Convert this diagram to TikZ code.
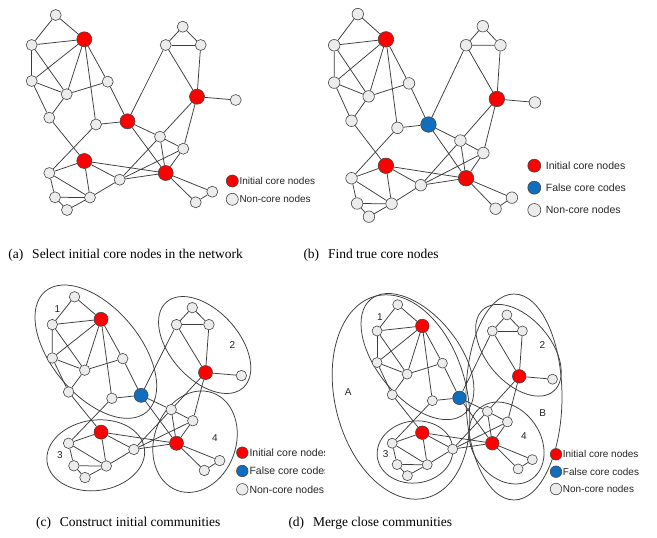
\documentclass[tikz,border=0pt]{standalone}
\usepackage{fontspec}
\setmainfont{Liberation Serif}
\newfontfamily\lsans{Liberation Sans}
\definecolor{nodered}{RGB}{255,0,0}
\definecolor{nodeblue}{RGB}{16,110,190}
\definecolor{nodegray}{RGB}{236,236,236}
\definecolor{edgecol}{RGB}{60,60,60}
\definecolor{rimcol}{RGB}{70,70,70}
\tikzset{
 gn/.style={circle,draw=rimcol,line width=0.6pt,fill=nodegray,inner sep=0pt,minimum size=11pt},
 cn/.style={circle,draw=rimcol,line width=0.6pt,inner sep=0pt,minimum size=15pt},
 ed/.style={draw=edgecol,line width=0.75pt},
 comm/.style={draw=edgecol,line width=0.75pt},
 legtext/.style={anchor=west,inner sep=0pt,text=black!85},
 captext/.style={anchor=base west,font=\fontsize{13.5}{16}\selectfont,inner sep=0pt},
 lab/.style={font=\lsans\fontsize{10}{12}\selectfont,inner sep=0pt,text=black!85}
}
\newcommand\netgraph[2]{%
 \node[gn] (#1n1) at (55.7,15) {};
 \node[cn,fill=nodered] (#1R1) at (84.3,39.3) {};
 \node[gn] (#1n2) at (31.7,45) {};
 \node[gn] (#1n3) at (31.7,81) {};
 \node[gn] (#1n4) at (66.7,94.2) {};
 \node[gn] (#1n5) at (107.7,81.7) {};
 \node[gn] (#1n6) at (49.3,117.7) {};
 \node[gn] (#1n7) at (96,124.5) {};
 \node[cn,fill=#2] (#1R2) at (127.5,121.3) {};
 \node[gn] (#1n8) at (182.7,26.7) {};
 \node[gn] (#1n9) at (165.7,45) {};
 \node[gn] (#1n10) at (200.7,45) {};
 \node[cn,fill=nodered] (#1R3) at (197,96.7) {};
 \node[gn] (#1n11) at (235.7,100) {};
 \node[gn] (#1n12) at (160,136.7) {};
 \node[gn] (#1n13) at (183.3,148.7) {};
 \node[cn,fill=nodered] (#1R4) at (84.3,161) {};
 \node[cn,fill=nodered] (#1R5) at (165.7,173) {};
 \node[gn] (#1n14) at (49.3,173) {};
 \node[gn] (#1n15) at (119.7,179.7) {};
 \node[gn] (#1n16) at (55,197.3) {};
 \node[gn] (#1n17) at (90,197.5) {};
 \node[gn] (#1n18) at (67,210) {};
 \node[gn] (#1n19) at (212.3,191.7) {};
 \node[gn] (#1n20) at (195.7,202.3) {};
 \foreach \u/\v in {n1/R1,n1/n2,n2/R1,n2/n3,n2/n4,n3/R1,n3/n4,n3/n6,n4/R1,n4/n5,n4/n6,
   R1/n7,R1/n5,n5/R2,n7/R2,n6/R4,n7/n14,R2/n9,R2/n12,R2/R5,n8/n9,n8/n10,n9/n10,n9/R3,
   n10/R3,R3/n11,R3/n12,R3/n13,n12/n13,n12/R5,n13/R5,n15/n12,n15/n13,n15/R5,R4/R5,
   R4/n14,R4/n15,R4/n17,n14/n16,n14/n17,n16/n17,n16/n18,n18/n17,n15/n17,R5/n19,R5/n20,n19/n20}
   \draw[ed] (#1\u) -- (#1\v);
}
\newcommand\commtop{%
 \draw[comm,rotate around={-50:(78.7,74.2)}] (78.7,74.2) ellipse [x radius=85,y radius=47.5];
 \draw[comm,rotate around={-48:(196.1,67)}] (196.1,67) ellipse [x radius=62,y radius=37];
}
\begin{document}
\begin{tikzpicture}[x=1pt,y=-1pt]
\useasboundingbox[fill=white] (0,0) rectangle (657,538);
% panel (a)
\begin{scope}
 \netgraph{a}{nodered}
\end{scope}
\node[cn,fill=nodered,minimum size=12pt] (aLr) at (232.3,181) {};
\node[gn,minimum size=12pt] (aLg) at (232.3,199.3) {};
\node[legtext,font=\lsans\fontsize{10}{12}\selectfont] (aTr) at (239.3,181) {Initial core nodes};
\node[legtext,font=\lsans\fontsize{10}{12}\selectfont] (aTg) at (239.3,199.3) {Non-core nodes};
\node[captext] (capa) at (8.3,258.3) {(a)\hspace{0.65em}Select initial core nodes in the network};
% panel (b)
\begin{scope}[shift={(303,-1.5)},xscale=0.984,yscale=1.039,gn/.append style={minimum size=11.5pt},cn/.append style={minimum size=15.5pt}]
 \netgraph{b}{nodeblue}
\end{scope}
\node[cn,fill=nodered,minimum size=13pt] (bLr) at (534.3,165.7) {};
\node[cn,fill=nodeblue,minimum size=13pt] (bLb) at (534.3,187.7) {};
\node[gn,minimum size=13pt] (bLg) at (534.3,210) {};
\node[legtext,font=\lsans\fontsize{10.5}{12}\selectfont] (bTr) at (545.7,165.7) {Initial core nodes};
\node[legtext,font=\lsans\fontsize{10.5}{12}\selectfont] (bTb) at (545.7,187.7) {False core codes};
\node[legtext,font=\lsans\fontsize{10.5}{12}\selectfont] (bTg) at (545.7,210) {Non-core nodes};
\node[captext] (capb) at (303.3,258.3) {(b)\hspace{0.65em}Find true core nodes};
% panel (c)
\begin{scope}[shift={(22.9,282.9)},scale=0.927,gn/.append style={minimum size=10.5pt},cn/.append style={minimum size=14pt}]
 \commtop
 \draw[comm,rotate around={8:(78.6,186)}] (78.6,186) ellipse [x radius=53,y radius=38];
 \draw[comm,rotate around={70:(185.7,171.3)}] (185.7,171.3) ellipse [x radius=56,y radius=44];
 \netgraph{c}{nodeblue}
\end{scope}
\node[lab] (c1) at (57.3,309.3) {1};
\node[lab] (c2) at (232.3,345) {2};
\node[lab] (c3) at (60,455) {3};
\node[lab] (c4) at (215,438.3) {4};
\node[cn,fill=nodered,minimum size=11.5pt] (cLr) at (242.3,452.7) {};
\node[cn,fill=nodeblue,minimum size=11.5pt] (cLb) at (242.3,471) {};
\node[gn,minimum size=11.5pt] (cLg) at (242.3,489.3) {};
\begin{scope}
 \clip (0,300) rectangle (324.5,500);
 \node[legtext,font=\lsans\fontsize{10.5}{12}\selectfont] (cTr) at (249.3,452.7) {Initial core nodes};
 \node[legtext,font=\lsans\fontsize{10.5}{12}\selectfont] (cTb) at (249.3,471) {False core codes};
 \node[legtext,font=\lsans\fontsize{10.5}{12}\selectfont] (cTg) at (249.3,489.3) {Non-core nodes};
\end{scope}
\node[captext] (capc) at (36,526.7) {(c)\hspace{0.65em}Construct initial communities};
% panel (d)
\draw[comm,rotate around={-76:(401,397)}] (401,397) ellipse [x radius=104,y radius=66];
\draw[comm,rotate around={90:(514,397)}] (514,397) ellipse [x radius=103,y radius=48];
\draw[comm,rotate around={8:(415,452)}] (415,452) ellipse [x radius=38,y radius=31];
\draw[comm,rotate around={-55:(506.5,443)}] (506.5,443) ellipse [x radius=44,y radius=34];
\begin{scope}[shift={(349.8,291.5)},xscale=0.86,yscale=0.877,gn/.append style={minimum size=10pt},cn/.append style={minimum size=13.5pt}]
 \commtop
 \netgraph{d}{nodeblue}
\end{scope}
\node[lab] (d1) at (380,316.7) {1};
\node[lab] (d2) at (542.3,345) {2};
\node[lab] (d3) at (385.7,454.3) {3};
\node[lab] (d4) at (524,435.7) {4};
\node[lab] (dA) at (348.3,391.7) {A};
\node[lab] (dB) at (542.7,412.7) {B};
\node[cn,fill=nodered,minimum size=11.5pt] (dLr) at (556,454.3) {};
\node[cn,fill=nodeblue,minimum size=11.5pt] (dLb) at (556,471.7) {};
\node[gn,minimum size=11.5pt] (dLg) at (556,489) {};
\node[legtext,font=\lsans\fontsize{10}{12}\selectfont] (dTr) at (562.7,454.3) {Initial core nodes};
\node[legtext,font=\lsans\fontsize{10}{12}\selectfont] (dTb) at (562.7,471.7) {False core codes};
\node[legtext,font=\lsans\fontsize{10}{12}\selectfont] (dTg) at (562.7,489) {Non-core nodes};
\node[captext] (capd) at (288.3,526.7) {(d)\hspace{0.65em}Merge close communities};
\end{tikzpicture}
\end{document}
